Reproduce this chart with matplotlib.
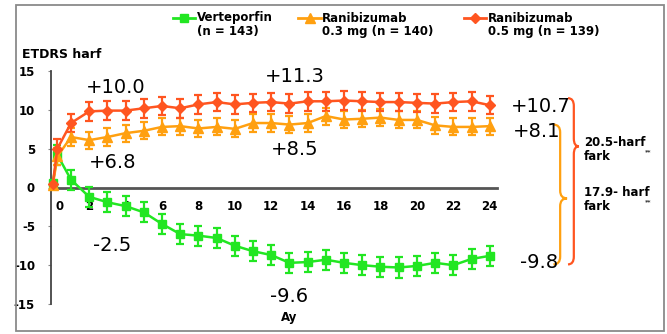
import matplotlib
matplotlib.use("Agg")
import matplotlib.pyplot as plt
from matplotlib.lines import Line2D
from matplotlib.path import Path
from matplotlib.patches import PathPatch, Rectangle
from matplotlib.transforms import ScaledTranslation

# ---------------- data ----------------
months = [0, 0.25, 1, 2, 3, 4, 5, 6, 7, 8, 9, 10, 11, 12,
          13, 14, 15, 16, 17, 18, 19, 20, 21, 22, 23, 24]
verteporfin = [0.6, 4.2, 1.0, -1.2, -1.9, -2.4, -3.2, -4.7, -6.0, -6.2, -6.5, -7.5, -8.2, -8.7,
               -9.7, -9.6, -9.3, -9.7, -10.0, -10.2, -10.3, -10.1, -9.7, -10.0, -9.2, -8.8]
rani_03 = [0.3, 4.0, 6.5, 6.1, 6.5, 7.0, 7.3, 7.8, 7.9, 7.6, 7.8, 7.55, 8.3, 8.3,
           8.1, 8.3, 9.2, 8.75, 8.85, 9.0, 8.7, 8.7, 8.0, 7.8, 7.8, 7.9]
rani_05 = [0.5, 5.0, 8.3, 9.8, 9.9, 9.9, 10.2, 10.5, 10.2, 10.7, 11.0, 10.7, 10.9, 11.0,
           10.8, 11.1, 11.1, 11.2, 11.1, 11.0, 11.0, 10.9, 10.8, 11.0, 11.1, 10.6]
err_verteporfin = [0.3] + [1.3] * 25
err_rani_03 = [0.3] + [1.1] * 25
err_rani_05 = [0.3] + [1.2] * 25

series_labels = [("Verteporfin", "(n = 143)"),
                 ("Ranibizumab", "0.3 mg (n = 140)"),
                 ("Ranibizumab", "0.5 mg (n = 139)")]
xticks = [0, 2, 4, 6, 8, 10, 12, 14, 16, 18, 20, 22, 24]
yticks = [-15, -10, -5, 0, 5, 10, 15]
ylabel = "ETDRS harf"
xlabel = "Ay"
annotations = [("+10.0", 3.47, 12.9), ("+11.3", 13.3, 14.3), ("+6.8", 3.3, 3.2),
               ("+8.5", 13.3, 4.9), ("-2.5", 3.25, -7.5), ("-9.6", 13.0, -14.0),
               ("+10.7", 26.8, 10.4), ("+8.1", 26.6, 7.2), ("-9.8", 26.7, -9.65)]
diff_texts = [("20.5-harf", "fark"), ("17.9- harf", "fark")]

GREEN = "#22E622"
ORANGE = "#FFA010"
RED = "#FF5520"

W, H = 667, 334
fig = plt.figure(figsize=(W / 100, H / 100), dpi=100)


def fx(px):
    return px / W


def fy(py):
    return 1 - py / H


# outer frame
fig.add_artist(Rectangle((fx(16), fy(331)), fx(664) - fx(16), fy(5) - fy(331),
                         transform=fig.transFigure, fill=False, edgecolor="#8a8a8a", lw=1.3))

ax = fig.add_axes([fx(51), fy(304), fx(497) - fx(51), fy(71) - fy(304)])
ax.set_xlim(-0.1, 24.4)
ax.set_ylim(-15, 15)
ax.patch.set_alpha(0)

for y, e, col, mk, ms in [(verteporfin, err_verteporfin, GREEN, "s", 6.0),
                          (rani_03, err_rani_03, ORANGE, "^", 6.5),
                          (rani_05, err_rani_05, RED, "D", 5.0)]:
    ax.errorbar(months, y, yerr=e, color=col, marker=mk, markersize=ms, lw=1.8,
                elinewidth=1.6, capsize=2.8, capthick=1.6, clip_on=False, zorder=3)

ax.spines["top"].set_visible(False)
ax.spines["right"].set_visible(False)
ax.spines["bottom"].set_position(("data", 0))
ax.spines["bottom"].set_color("#555555")
ax.spines["bottom"].set_linewidth(2.0)
ax.spines["left"].set_color("#444444")
ax.spines["left"].set_linewidth(1.3)

ax.set_xticks(xticks)
ax.set_xticklabels([str(t) for t in xticks], fontsize=8.5, fontweight="bold")
ax.set_yticks(yticks)
ax.set_yticklabels([str(t) for t in yticks], fontsize=8.5, fontweight="bold")
ax.tick_params(axis="x", length=0, pad=9)
ax.tick_params(axis="y", length=2, pad=9.5, color="#888888")
lab0 = ax.get_xticklabels()[0]
lab0.set_transform(lab0.get_transform() + ScaledTranslation(7 / 100, 0, fig.dpi_scale_trans))

for txt, x, y in annotations:
    ax.text(x, y, txt, fontsize=14, ha="center", va="center", clip_on=False)
ax.text(13.0, -16.7, xlabel, fontsize=8.5, fontweight="bold", ha="center", va="center",
        clip_on=False)
fig.text(fx(22), fy(55), ylabel, fontsize=9, fontweight="bold", ha="left", va="center")


def brace(xl, xv, xt, ytop, ymid, ybot, r, color):
    verts = [(xl, ytop), (xv, ytop), (xv, ytop - r),
             (xv, ymid + r), (xv, ymid), (xt, ymid),
             (xv, ymid), (xv, ymid - r),
             (xv, ybot + r), (xv, ybot), (xl, ybot)]
    codes = [Path.MOVETO, Path.CURVE3, Path.CURVE3,
             Path.LINETO, Path.CURVE3, Path.CURVE3,
             Path.CURVE3, Path.CURVE3,
             Path.LINETO, Path.CURVE3, Path.CURVE3]
    ax.add_patch(PathPatch(Path(verts, codes), fill=False, edgecolor=color, lw=1.6,
                           clip_on=False))


brace(27.5, 27.87, 28.25, 8.1, -1.4, -9.9, 1.0, ORANGE)
brace(28.3, 28.62, 28.9, 11.5, 5.3, -9.9, 1.0, RED)

for (l1, l2), y1 in zip(diff_texts, [142, 192]):
    fig.text(fx(584), fy(y1), l1, fontsize=8.5, fontweight="bold", ha="left", va="center")
    fig.text(fx(584), fy(y1 + 15), l2, fontsize=8.5, fontweight="bold", ha="left", va="center")
    fig.text(fx(648), fy(y1 + 10), "**", fontsize=4.5, fontweight="bold", ha="center",
             va="center", color="#333333")

# legend (manual)
for (l1, l2), col, mk, ms, x0, x1, tx in zip(series_labels, [GREEN, ORANGE, RED],
                                             ["s", "^", "D"], [6.0, 6.5, 5.0],
                                             [173, 298, 464], [195, 321, 486],
                                             [197, 322, 488]):
    fig.add_artist(Line2D([fx(x0), fx((x0 + x1) / 2), fx(x1)], [fy(18)] * 3,
                          transform=fig.transFigure, color=col, lw=2, marker=mk,
                          markersize=ms, markevery=[1]))
    fig.text(fx(tx), fy(18), l1, fontsize=8.5, fontweight="bold", ha="left", va="center")
    fig.text(fx(tx), fy(32), l2, fontsize=8.5, fontweight="bold", ha="left", va="center")

fig.savefig("out.png", dpi=100)
